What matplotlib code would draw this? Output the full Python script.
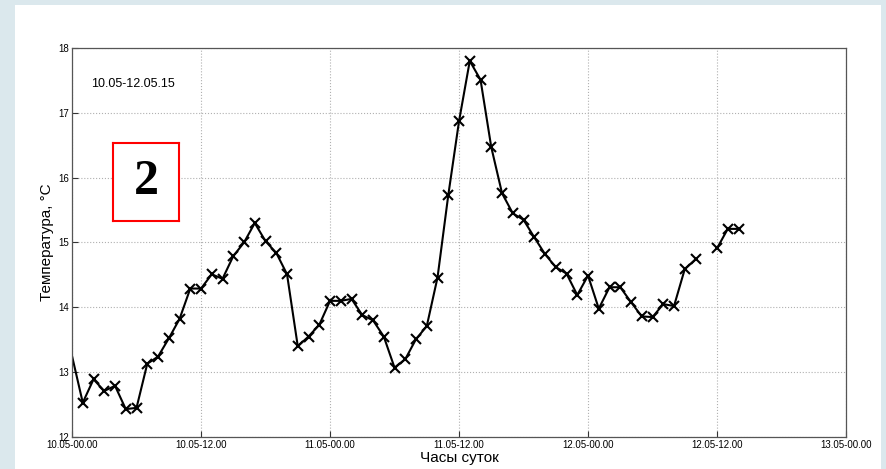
import numpy as np
import matplotlib.pyplot as plt
from matplotlib.patches import Rectangle

# hourly temperature readings, hour 0 = 10.05 00:00 (nan = missing)
hours = np.arange(0, 63)
temp = [13.25, 12.53, 12.89, 12.71, 12.79, 12.43, 12.45, 13.13, 13.24, 13.52,
        13.82, 14.29, 14.29, 14.51, 14.44, 14.79, 15.00, 15.30, 15.02, 14.84,
        14.51, 13.40, 13.55, 13.73, 14.10, 14.10, 14.13, 13.88, 13.80, 13.55,
        13.07, 13.20, 13.51, 13.71, 14.46, 15.73, 16.87, 17.80, 17.51, 16.47,
        15.76, 15.45, 15.35, 15.08, 14.82, 14.62, 14.52, 14.19, 14.49, 13.98,
        14.31, 14.31, 14.08, 13.86, 13.85, 14.05, 14.02, 14.59, 14.74, np.nan,
        14.91, 15.21, 15.21]
xticks = [0, 12, 24, 36, 48, 60, 72]
xticklabels = ['10.05-00.00', '10.05-12.00', '11.05-00.00', '11.05-12.00',
               '12.05-00.00', '12.05-12.00', '13.05-00.00']
yticks = [12, 13, 14, 15, 16, 17, 18]

plt.rcParams['font.family'] = ['Liberation Sans', 'DejaVu Sans']

fig = plt.figure(figsize=(8.87, 4.69), dpi=100, facecolor='#dbe8ed')
# white slide panel behind everything
fig.patches.append(Rectangle((0.0169, 0.0), 0.9763, 0.9893, transform=fig.transFigure,
                             facecolor='white', edgecolor='none', zorder=-5))

ax = fig.add_axes([0.0812, 0.0682, 0.8726, 0.8295])
ax.set_zorder(1)
# first sample sits on the axis edge, no marker drawn there
ax.plot(hours, temp, color='black', lw=1.5, marker='x', ms=7, mew=1.5,
        markevery=list(range(1, len(hours))))

ax.set_xlim(0, 72)
ax.set_ylim(12, 18)
ax.set_xticks(xticks)
ax.set_xticklabels(xticklabels, family=['Liberation Sans Narrow', 'Liberation Sans'])
ax.set_yticks(yticks)
ax.tick_params(direction='in', labelsize=7, length=4, color='#333333', pad=2)
ax.grid(True, linestyle=':', color='#b0b0b0', lw=0.8)
for s in ax.spines.values():
    s.set_color('#555555')
    s.set_linewidth(0.9)

ax.set_xlabel('Часы суток', fontsize=11, labelpad=1)
ax.set_ylabel('Температура, °C', fontsize=11, labelpad=3)

ax.text(1.8, 17.45, '10.05-12.05.15', fontsize=9, va='center', ha='left')

# red framed number
box = fig.add_axes([0.1274, 0.5288, 0.0744, 0.1663])
box.set_zorder(2)
box.set_xticks([])
box.set_yticks([])
for s in box.spines.values():
    s.set_color('red')
    s.set_linewidth(1.5)
box.text(0.5, 0.5, '2', fontsize=36, fontweight='bold', family='Liberation Serif',
         ha='center', va='center', transform=box.transAxes)

fig.savefig('out.png', dpi=100, facecolor=fig.get_facecolor())
